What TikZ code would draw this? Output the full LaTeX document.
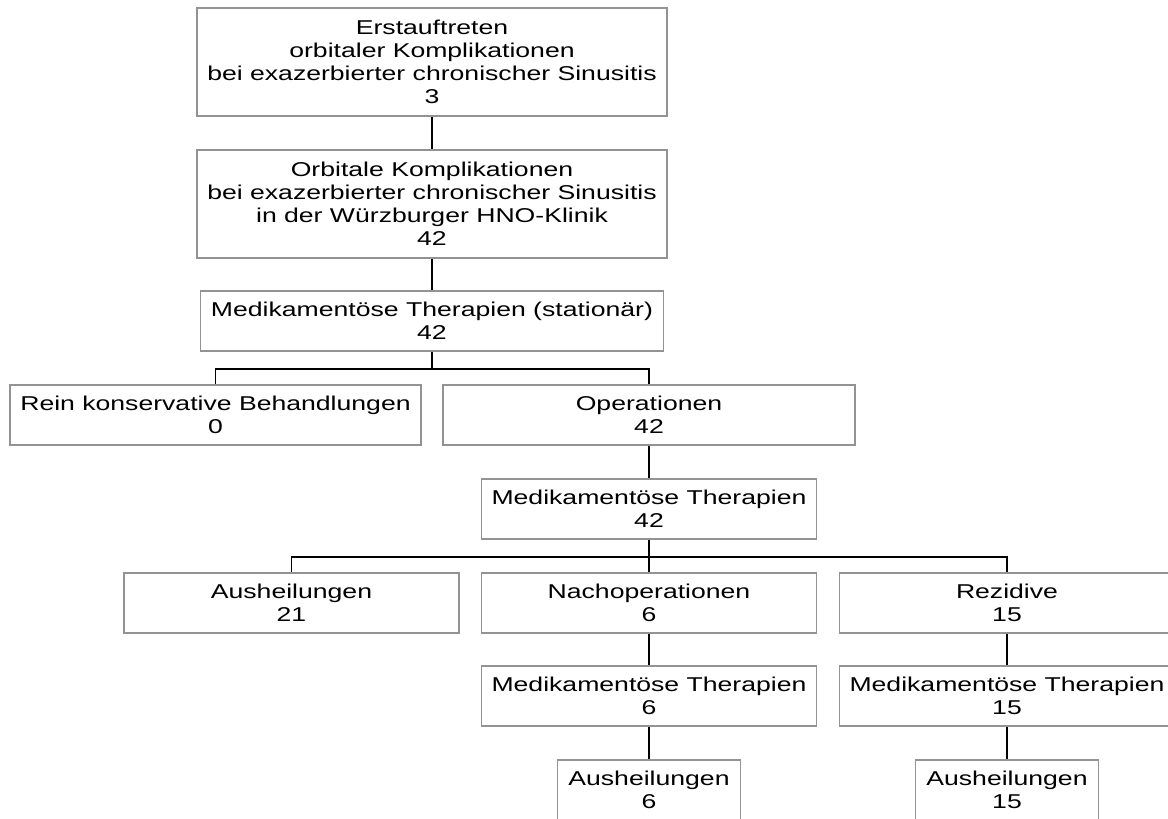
\documentclass[tikz,border=0pt]{standalone}
\usepackage{fontspec}
\setmainfont{Liberation Sans}[FakeStretch=1.33]
\begin{document}
\begin{tikzpicture}[x=0.75pt,y=-0.75pt,line width=1.2pt,
  box/.style={draw=gray!85,line width=1.2pt,align=center,inner sep=0pt,
    minimum height=45pt,font=\fontsize{15}{17.25}\selectfont},
  wide/.style={box,minimum width=251.25pt}]
  \useasboundingbox (0,0) rectangle (1168,818);
  \clip (0,0) rectangle (1168,818);

  % Kopf
  \node[box,minimum width=352.5pt,minimum height=81pt] (erst) at (432,62)
    {Erstauftreten\\orbitaler Komplikationen\\bei exazerbierter chronischer Sinusitis\\3};
  \node[box,minimum width=352.5pt,minimum height=81pt] (orb) at (432,204)
    {Orbitale Komplikationen\\bei exazerbierter chronischer Sinusitis\\in der Würzburger HNO-Klinik\\42};
  \node[box,minimum width=347pt] (medstat) at (432,321)
    {Medikamentöse Therapien (stationär)\\42};

  % erste Verzweigung
  \node[box,minimum width=308.25pt] (rein) at (215.5,415)
    {Rein konservative Behandlungen\\0};
  \node[box,minimum width=309pt] (ops) at (649,415) {Operationen\\42};
  \node[wide] (med42) at (649,509) {Medikamentöse Therapien\\42};

  % zweite Verzweigung
  \node[wide] (aus21) at (291.5,603) {Ausheilungen\\21};
  \node[wide] (nachop) at (649,603) {Nachoperationen\\6};
  \node[wide] (rez) at (1007,603) {Rezidive\\15};
  \node[wide] (med6) at (649,696) {Medikamentöse Therapien\\6};
  \node[wide] (med15) at (1007,696) {Medikamentöse Therapien\\15};
  \node[box,minimum width=137.25pt] (aus6) at (649,790) {Ausheilungen\\6};
  \node[box,minimum width=137.25pt] (aus15) at (1007,790) {Ausheilungen\\15};

  % Verbindungen
  \draw (erst) -- (orb);
  \draw (orb) -- (medstat);
  \draw (medstat.south) -- ++(0,17) coordinate (split1);
  \draw (split1) -| (rein.north);
  \draw (split1) -| (ops.north);
  \draw (ops) -- (med42);
  \draw (med42.south) -- ++(0,17) coordinate (split2);
  \draw (split2) -| (aus21.north);
  \draw (split2) -| (rez.north);
  \draw (split2) -- (nachop.north);
  \draw (nachop) -- (med6) -- (aus6);
  \draw (rez) -- (med15) -- (aus15);
\end{tikzpicture}
\end{document}
